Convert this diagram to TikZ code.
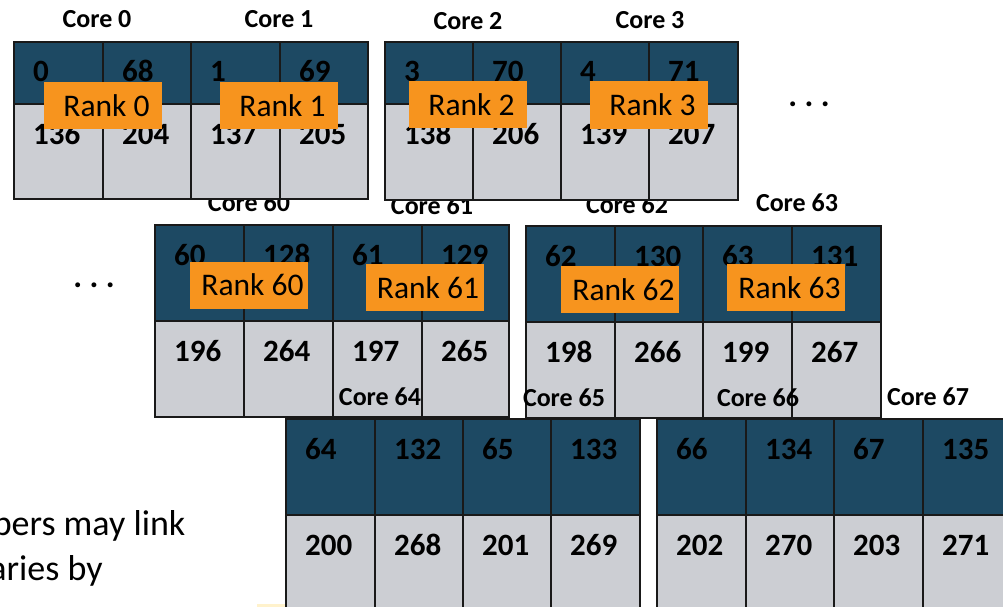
\documentclass[tikz,border=0pt]{standalone}
\usepackage{fontspec}
\setmainfont{Carlito}
\definecolor{darkc}{RGB}{29,73,99}
\definecolor{lightc}{RGB}{204,206,211}
\definecolor{orangec}{RGB}{247,148,30}
\definecolor{yellowc}{RGB}{255,242,204}
\tikzset{
  gridline/.style={line width=2.6pt, draw=black!90},
  num/.style={anchor=base west, inner sep=0pt, font=\fontsize{31}{31}\selectfont\bfseries},
  corelbl/.style={anchor=base, inner sep=0pt, font=\fontsize{26}{26}\selectfont\bfseries},
  rankbox/.style={fill=orangec, minimum width=118pt, minimum height=47pt, inner sep=0pt,
    text depth=0pt, font=\fontsize{31.5}{31.5}\selectfont},
  dotsnode/.style={anchor=base, inner sep=0pt, font=\fontsize{33}{33}\selectfont\bfseries},
  bodytext/.style={anchor=base west, inner sep=0pt, font=\fontsize{36}{36}\selectfont},
}
% x0 x1 x2 x3 x4 ytop ymid ybot
\newcommand\cellgrp[8]{%
  \fill[darkc] (#1,#6) rectangle (#5,#7);
  \fill[lightc] (#1,#7) rectangle (#5,#8);
  \draw[gridline] (#1,#6) rectangle (#5,#8);
  \draw[gridline] (#1,#7) -- (#5,#7);
  \draw[gridline] (#2,#6) -- (#2,#8);
  \draw[gridline] (#3,#6) -- (#3,#8);
  \draw[gridline] (#4,#6) -- (#4,#8);
}
\begin{document}
\begin{tikzpicture}[x=1pt,y=-1pt]
\useasboundingbox (0,0) rectangle (1003,607);
\clip (0,0) rectangle (1003,607);
\fill[white] (0,0) rectangle (1003,607);

% row 2 core labels (partly hidden by row 1)
\node[corelbl] (l60) at (249,211.5) {Core 60};
\node[corelbl] (l61) at (432,214.5) {Core 61};
\node[corelbl] (l62) at (627,213.5) {Core 62};
\node[corelbl] (l63) at (797,211.5) {Core 63};

% row 1
\cellgrp{14}{103}{191}{280}{368}{42}{104}{199}
\cellgrp{385}{473}{561}{649}{738}{42}{104}{200}
\node[corelbl] (l0) at (97,27.5) {Core 0};
\node[corelbl] (l1) at (279,27.5) {Core 1};
\node[corelbl] (l2) at (468,29.5) {Core 2};
\node[corelbl] (l3) at (650,28.5) {Core 3};
\foreach \t/\x/\y in {0/33/82, 68/122/82, 1/210/82, 69/299/82,
                      136/33/144, 204/122/144, 137/210/144, 205/299/144,
                      3/404/82, 70/492/82, 4/580/82, 71/668/82,
                      138/404/144, 206/492/144, 139/580/144, 207/668/144}
  \node[num] (n\t) at (\x,\y) {\t};

% row 2
\cellgrp{155}{244}{333}{422}{509}{225}{321}{417}
\cellgrp{526}{615}{703}{792}{881}{226}{322}{418}
\foreach \t/\x/\y in {60/174/265, 128/263/265, 61/352/265, 129/441/265,
                      196/174/361, 264/263/361, 197/352/361, 265/441/361,
                      62/545/266, 130/634/266, 63/722/266, 131/811/266,
                      198/545/362, 266/634/362, 199/722/362, 267/811/362}
  \node[num] (n\t) at (\x,\y) {\t};

% row 3 core labels
\node[corelbl] (l64) at (380,405) {Core 64};
\node[corelbl] (l65) at (564,406.5) {Core 65};
\node[corelbl] (l66) at (758,406.5) {Core 66};
\node[corelbl] (l67) at (928,405.5) {Core 67};

% row 3
\cellgrp{286}{375}{463}{551}{640}{419}{515}{700}
\cellgrp{657}{746}{834}{923}{1012}{419}{515}{700}
\foreach \t/\x/\y in {64/305/459, 132/394/459, 65/482/459, 133/570/459,
                      200/305/555, 268/394/555, 201/482/555, 269/570/555,
                      66/676/459, 134/765/459, 67/853/459, 135/942/459,
                      202/676/555, 270/765/555, 203/853/555, 271/942/555}
  \node[num] (n\t) at (\x,\y) {\t};

% rank boxes
\node[rankbox] (r0) at (103,105.5) {\hspace*{7pt}Rank 0};
\node[rankbox] (r1) at (279,105.5) {\hspace*{7pt}Rank 1};
\node[rankbox] (r2) at (468,104.5) {\hspace*{7pt}Rank 2};
\node[rankbox] (r3) at (649,105) {\hspace*{7pt}Rank 3};
\node[rankbox] (r60) at (249,285) {\hspace*{7pt}Rank 60};
\node[rankbox] (r61) at (424.5,287.5) {\hspace*{7pt}Rank 61};
\node[rankbox] (r62) at (620,289.5) {\hspace*{7pt}Rank 62};
\node[rankbox] (r63) at (786,287.5) {\hspace*{7pt}Rank 63};

% ellipses
\node[dotsnode] (d1) at (809,106.5) {.\ .\ .};
\node[dotsnode] (d2) at (94,287) {.\ .\ .};

% clipped body text
\node[bodytext] (t1) at (-74,535) {numbers may link};
\node[bodytext] (t2) at (-58,580) {libraries by};

% faint yellow strip at the bottom
\fill[yellowc] (257,604) rectangle (285,608);
\end{tikzpicture}
\end{document}
